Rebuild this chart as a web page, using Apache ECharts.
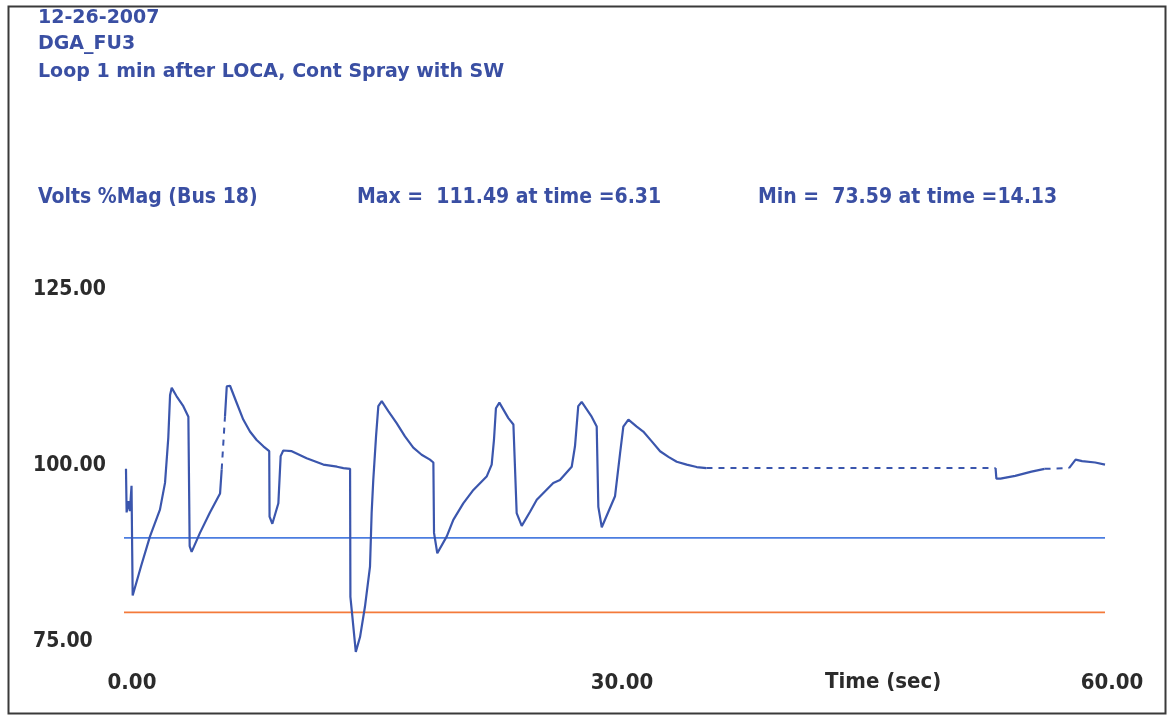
<!DOCTYPE html>
<html>
<head>
<meta charset="utf-8">
<script src="https://cdn.jsdelivr.net/npm/echarts@6/dist/echarts.min.js"></script>
<style>
html,body{margin:0;padding:0;background:#fff;}
#chart{width:1169px;height:715px;}
</style>
</head>
<body>
<div id="chart"></div>
<script>
// ---- data ----
const titleLines = ['12-26-2007', 'DGA_FU3', 'Loop 1 min after LOCA, Cont Spray with SW'];
const seriesLabel = 'Volts %Mag (Bus 18)';
const maxText = 'Max =  111.49 at time =6.31';
const minText = 'Min =  73.59 at time =14.13';
const xAxisTitle = 'Time (sec)';
const xTicks = [0, 30, 60];
const yTicks = [75, 100, 125];

const timeSec = [
  0.06, 0.10, 0.20, 0.30, 0.40, 0.44, 0.47, 1.00, 1.53, 2.14, 2.45, 2.65, 2.76, 2.86, 3.16, 3.57, 3.88, 3.94, 3.96,
  4.08, 4.59, 5.20, 5.82, 5.92, 6.12, 6.23, 6.31, 6.43, 6.84, 7.24, 7.65, 8.06, 8.47, 8.83, 8.85, 9.02, 9.39, 9.53, 9.69,
  10.21, 11.12, 12.14, 12.98, 13.37, 13.78, 13.80, 13.90, 14.13, 14.39, 14.69, 15.00, 15.10, 15.20,
  15.37, 15.51, 15.72, 16.12, 16.63, 17.14, 17.65, 18.16, 18.67, 18.88, 18.92, 19.12, 19.70, 20.10, 20.71, 21.33, 22.14, 22.45, 22.59,
  22.71, 22.92, 23.47, 23.78, 23.98, 24.29, 24.80, 25.21, 26.22, 26.63, 27.35, 27.55, 27.75, 27.96, 28.57,
  28.88, 28.98, 29.19, 30.00, 30.31, 30.51, 30.82, 31.33, 31.73, 32.25, 32.76, 33.27, 33.78, 34.39, 35.00, 35.60, 53.30, 53.35,
  53.60, 54.50, 55.50, 56.30, 57.80, 58.20, 58.60, 59.40, 60.00
];
const voltsPct = [
  99.6, 93.4, 95.0, 93.6, 97.2, 88.0, 81.6, 85.9, 90.0, 93.8, 97.6, 104.0, 110.1, 111.1, 109.9, 108.5, 107.0, 106.8, 88.6,
  87.8, 90.5, 93.4, 96.1, 99.5, 107.0, 111.3, 111.49, 111.4, 108.95, 106.6, 104.9, 103.7, 102.8, 102.1, 92.8, 91.8, 94.7, 101.4, 102.2,
  102.1, 101.1, 100.2, 99.9, 99.7, 99.6, 81.4, 79.1, 73.59, 75.7, 80.0, 85.7, 93.3, 98.0,
  104.2, 108.5, 109.2, 107.8, 106.1, 104.2, 102.6, 101.6, 100.9, 100.5, 90.5, 87.6, 90.0, 92.35, 94.7, 96.6, 98.5, 100.2, 103.7,
  108.2, 109.0, 106.8, 105.9, 93.3, 91.5, 93.5, 95.2, 97.6, 98.0, 99.9, 102.8, 108.5, 109.1, 107.0,
  105.6, 94.2, 91.3, 95.7, 101.8, 105.6, 106.6, 105.6, 104.9, 103.5, 102.1, 101.3, 100.6, 100.2, 99.85, 99.7, 99.7, 98.2,
  98.2, 98.6, 99.2, 99.6, 99.7, 100.9, 100.7, 100.5, 100.2
];
// time spans where the trace is drawn dashed in the original plot
const dashedRanges = [[5.92, 6.12], [35.60, 53.30], [56.30, 57.80]];
// horizontal reference levels (% of nominal)
const limitLevels = [89.8, 79.2];
const limitStart = -0.73;
const limitEnd = 60;

// ---- build series data ----
function isDashed(a, b) {
  return dashedRanges.some(r => a >= r[0] - 1e-9 && b <= r[1] + 1e-9);
}
const solidData = [];
const dashedData = [];
for (let i = 0; i < timeSec.length; i++) {
  solidData.push([timeSec[i], voltsPct[i]]);
  if (i < timeSec.length - 1 && isDashed(timeSec[i], timeSec[i + 1])) {
    solidData.push(['-', '-']);
    dashedData.push([timeSec[i], voltsPct[i]], [timeSec[i + 1], voltsPct[i + 1]], ['-', '-']);
  }
}

const TITLE_COLOR = '#3a4fa3';
const LABEL_COLOR = '#2b2b2b';
const titleFont = 'bold 19px "DejaVu Sans"';
const statFont = 'bold 21px "DejaVu Sans Condensed"';
const axisFontFamily = 'DejaVu Sans Condensed';

const chart = echarts.init(document.getElementById('chart'), null, {renderer: 'canvas'});

const graphics = [
  {type: 'rect', left: 6, top: 4, shape: {width: 1157, height: 707},
   style: {fill: null, stroke: '#3a3a3a', lineWidth: 2}, silent: true}
];
const titleY = [19, 45, 73];
titleLines.forEach((t, i) => {
  graphics.push({type: 'text', left: 38, top: titleY[i] - 10,
    style: {text: t, font: titleFont, fill: TITLE_COLOR}});
});
graphics.push({type: 'text', left: 38, top: 187, style: {text: seriesLabel, font: statFont, fill: TITLE_COLOR}});
graphics.push({type: 'text', left: 357, top: 187, style: {text: maxText, font: statFont, fill: TITLE_COLOR}});
graphics.push({type: 'text', left: 758, top: 187, style: {text: minText, font: statFont, fill: TITLE_COLOR}});
graphics.push({type: 'text', left: 825, top: 671, style: {text: xAxisTitle, font: 'bold 22px "' + axisFontFamily + '"', fill: LABEL_COLOR}});

const limitColors = ['#4b7de0', '#f47a3a'];

const option = {
  backgroundColor: '#ffffff',
  animation: false,
  grid: {left: 125, right: 64, top: 290, bottom: 73, containLabel: false},
  xAxis: {
    type: 'value', min: xTicks[0], max: xTicks[xTicks.length - 1], interval: 30,
    axisLine: {show: false}, axisTick: {show: false}, splitLine: {show: false},
    axisLabel: {
      margin: 30, color: LABEL_COLOR, fontFamily: axisFontFamily, fontWeight: 'bold', fontSize: 22,
      padding: [0, 0, 0, 14],
      formatter: v => v.toFixed(2)
    }
  },
  yAxis: {
    type: 'value', min: yTicks[0], max: yTicks[yTicks.length - 1], interval: 25,
    axisLine: {show: false}, axisTick: {show: false}, splitLine: {show: false},
    axisLabel: {
      margin: 92, align: 'left', color: LABEL_COLOR, fontFamily: axisFontFamily, fontWeight: 'bold', fontSize: 21,
      formatter: v => v.toFixed(2)
    }
  },
  graphic: graphics,
  series: [
    ...limitLevels.map((lv, i) => ({
      type: 'line', name: 'limit' + i, clip: false, symbol: 'none', silent: true,
      data: [[limitStart, lv], [limitEnd, lv]],
      lineStyle: {color: limitColors[i], width: 1.8}
    })),
    {
      type: 'line', name: seriesLabel, symbol: 'none', connectNulls: false, clip: false,
      data: solidData,
      lineStyle: {color: '#3b56ad', width: 2.2}
    },
    {
      type: 'line', name: seriesLabel + ' (dashed)', symbol: 'none', connectNulls: false, clip: false,
      data: dashedData,
      lineStyle: {color: '#3b56ad', width: 2, type: [6, 6]}
    }
  ]
};
chart.setOption(option);
</script>
</body>
</html>
